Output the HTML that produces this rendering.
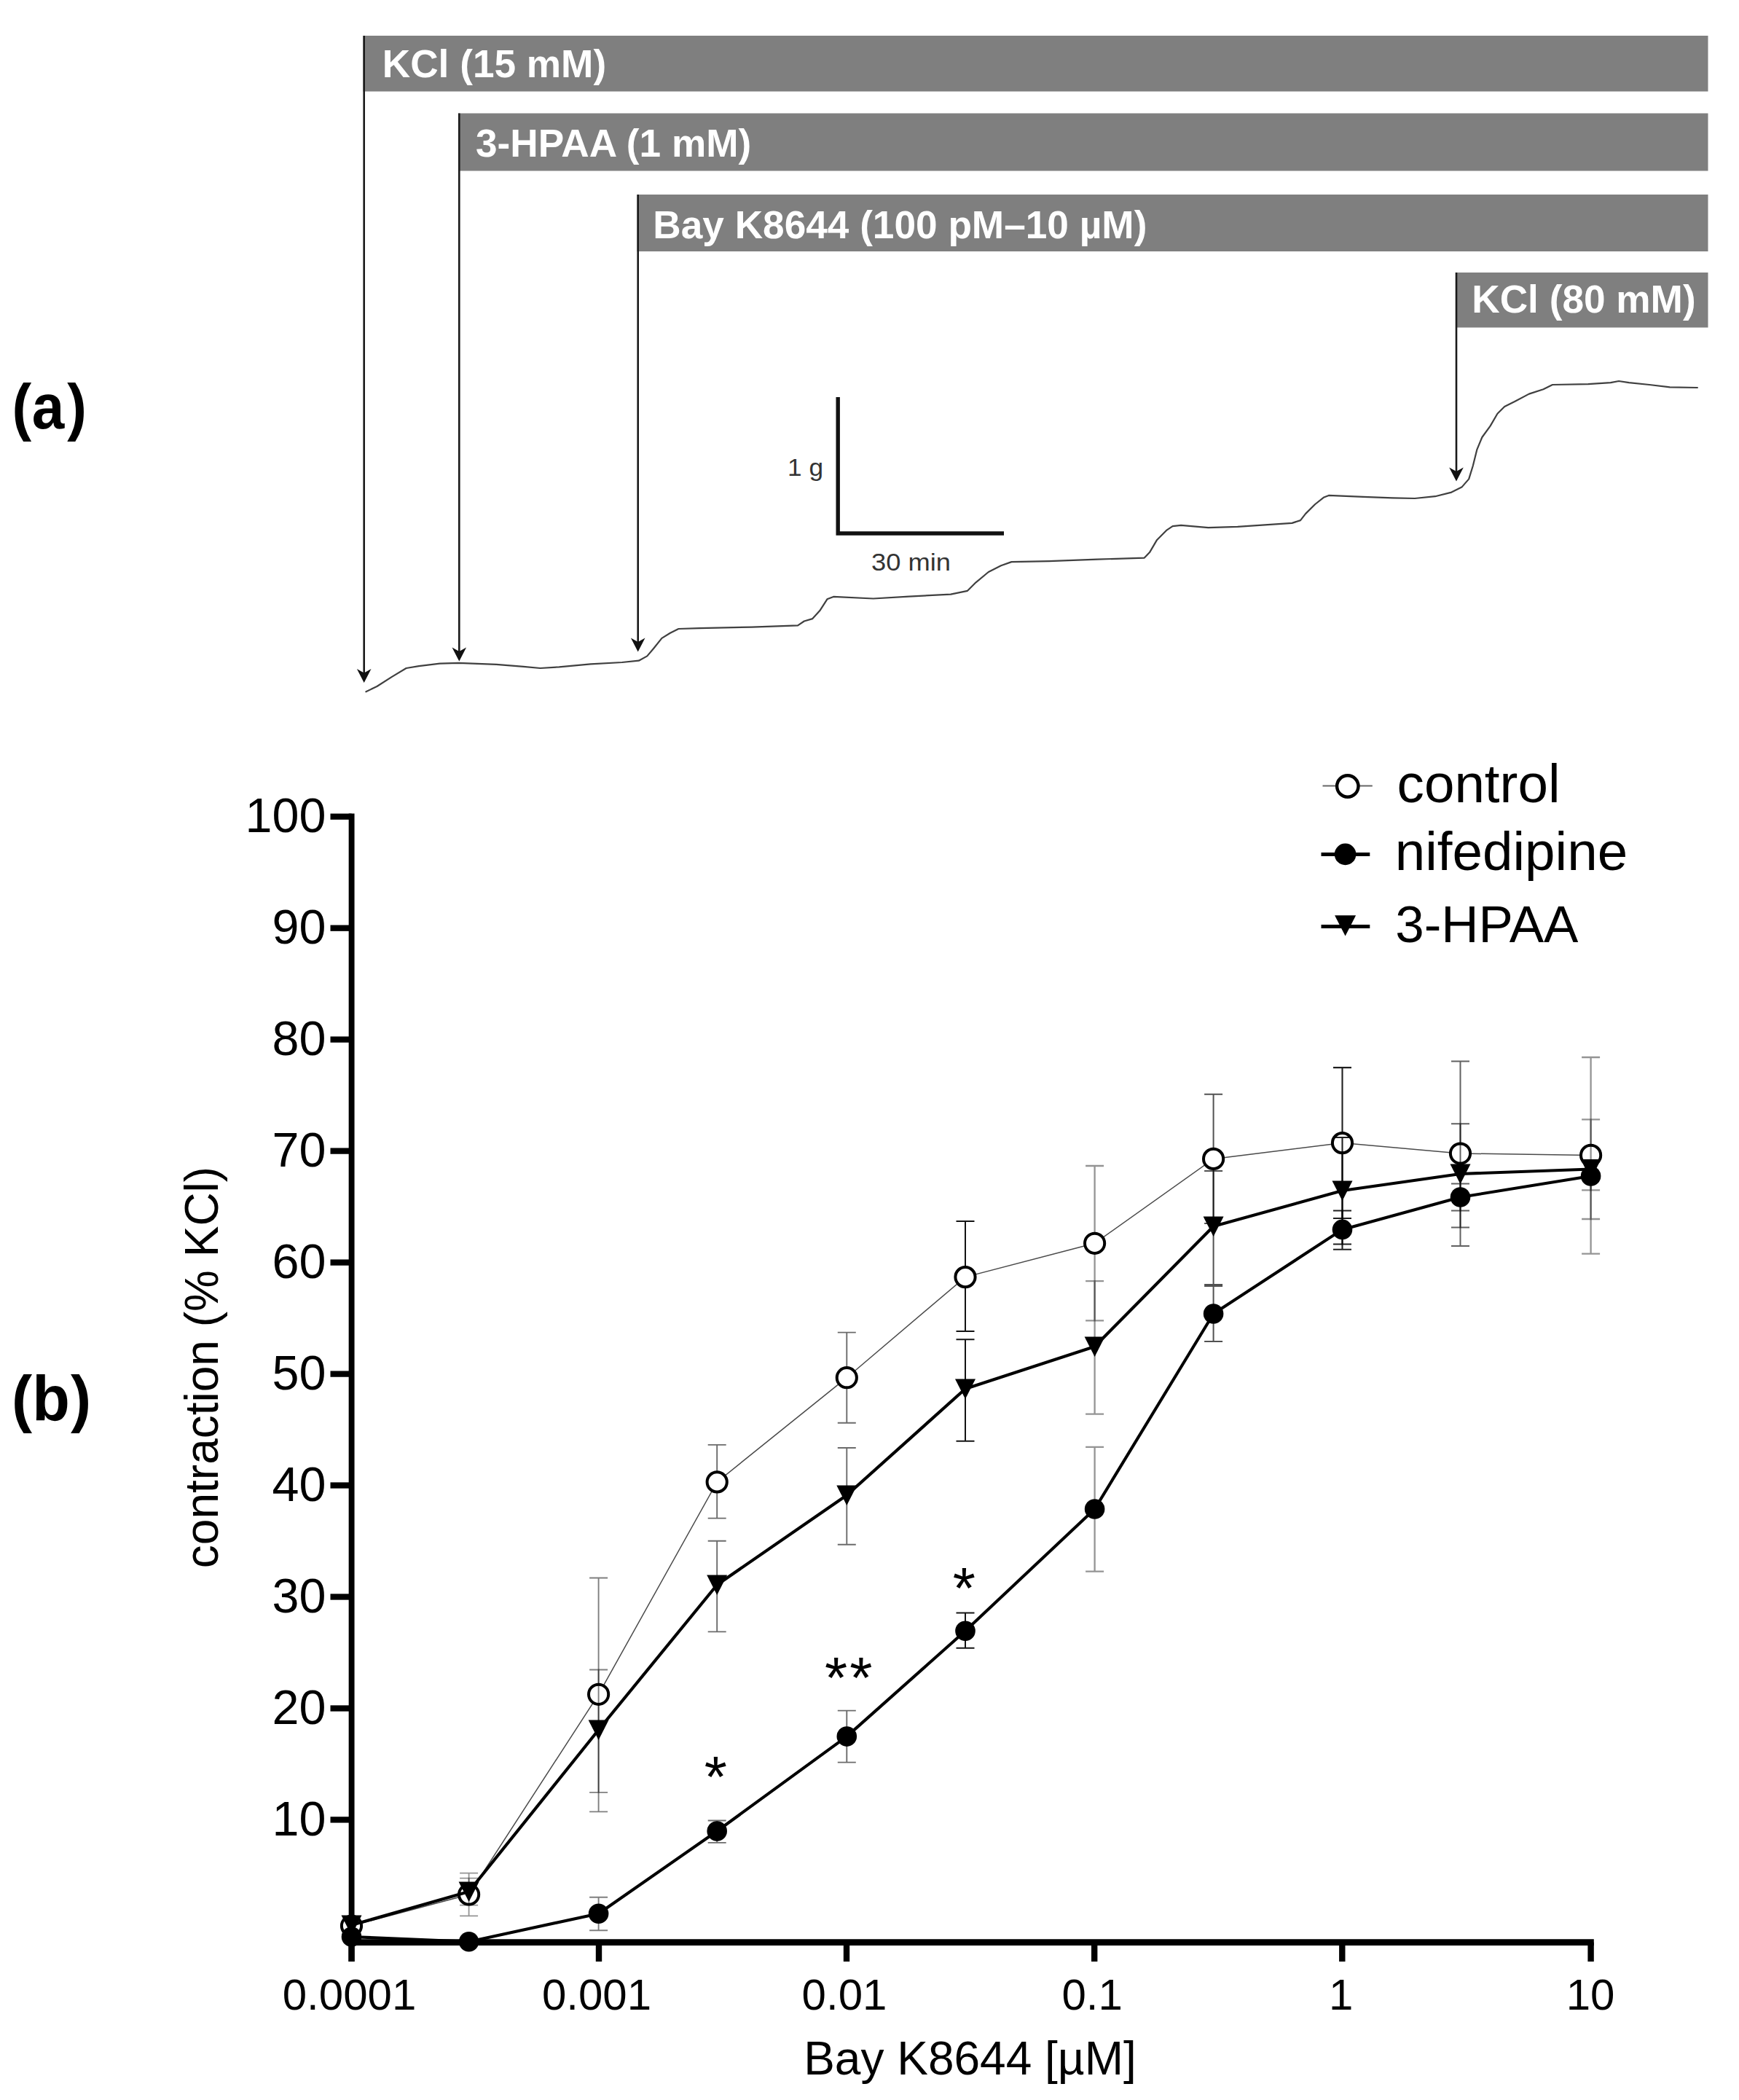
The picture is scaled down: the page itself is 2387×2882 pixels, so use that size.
<!DOCTYPE html>
<html lang="en"><head><meta charset="utf-8"><title>Figure</title>
<style>html,body{margin:0;padding:0;background:#fff}body{width:2387px;height:2882px;overflow:hidden}svg{display:block}text{font-family:"Liberation Sans",sans-serif}</style>
</head><body>
<svg width="2387" height="2882" viewBox="0 0 2387 2882">
<rect x="0" y="0" width="2387" height="2882" fill="#ffffff"/>
<g id="panel-a">
<rect x="498.5" y="49.0" width="1846.0" height="76.5" fill="#7f7f7f"/>
<text x="524.8" y="106.3" font-size="53.2" font-weight="bold" fill="#ffffff">KCl (15 mM)</text>
<rect x="629.0" y="155.5" width="1715.5" height="79.0" fill="#7f7f7f"/>
<text x="653.0" y="215.3" font-size="53.2" font-weight="bold" fill="#ffffff">3-HPAA (1 mM)</text>
<rect x="874.5" y="267.0" width="1470.0" height="78.0" fill="#7f7f7f"/>
<text x="896.3" y="327.3" font-size="53.2" font-weight="bold" fill="#ffffff">Bay K8644 (100 pM–10 µM)</text>
<rect x="1998.0" y="374.0" width="346.5" height="75.5" fill="#7f7f7f"/>
<text x="2020.3" y="428.8" font-size="53.2" font-weight="bold" fill="#ffffff">KCl (80 mM)</text>
<line x1="499.7" y1="49.0" x2="499.7" y2="927.0" stroke="#1a1a1a" stroke-width="2.6"/>
<path d="M499.7 937.0 L489.9 918.0 L499.7 923.5 L509.5 918.0 Z" fill="#111"/>
<line x1="630.3" y1="155.5" x2="630.3" y2="897.5" stroke="#1a1a1a" stroke-width="2.6"/>
<path d="M630.3 907.5 L620.5 888.5 L630.3 894.0 L640.1 888.5 Z" fill="#111"/>
<line x1="875.7" y1="267.0" x2="875.7" y2="884.5" stroke="#1a1a1a" stroke-width="2.6"/>
<path d="M875.7 894.5 L865.9 875.5 L875.7 881.0 L885.5 875.5 Z" fill="#111"/>
<line x1="1999.0" y1="374.0" x2="1999.0" y2="650.5" stroke="#1a1a1a" stroke-width="2.6"/>
<path d="M1999.0 660.5 L1989.2 641.5 L1999.0 647.0 L2008.8 641.5 Z" fill="#111"/>
<polyline fill="none" stroke="#404040" stroke-width="2.2" stroke-linejoin="round" stroke-linecap="round" points="502.4,949.3 517.4,942.0 537.5,929.1 557.6,917.0 574.9,914.2 603.6,910.7 629.5,909.9 681.3,911.9 718.6,914.8 741.6,917.0 767.5,915.3 810.6,911.3 853.8,909.0 876.8,906.7 888.3,900.4 896.9,890.3 908.4,875.9 919.9,868.8 931.4,863.0 960.0,862.2 1031.9,860.6 1095.1,858.3 1103.8,852.5 1115.3,849.1 1125.3,838.1 1135.4,822.3 1144.0,818.9 1198.7,821.5 1247.5,818.6 1305.0,815.7 1328.0,810.8 1339.5,799.3 1356.8,785.0 1374.0,776.3 1388.4,771.1 1440.0,770.2 1506.1,767.6 1570.8,765.6 1578.0,758.1 1588.1,740.9 1601.0,727.9 1609.6,722.2 1621.1,720.8 1658.5,724.2 1698.8,722.8 1773.5,717.9 1785.0,714.1 1792.2,704.9 1805.2,692.0 1816.7,682.8 1823.8,679.9 1871.3,681.9 1911.5,683.4 1942.0,684.0 1970.0,681.2 1992.4,675.6 2006.4,668.6 2016.2,657.4 2021.8,639.2 2027.4,616.8 2034.4,600.0 2045.6,584.6 2055.4,567.8 2065.2,558.0 2079.2,551.0 2098.8,540.6 2118.4,534.2 2131.0,528.0 2180.0,527.2 2210.8,525.2 2222.0,523.0 2236.0,525.2 2264.0,528.0 2292.0,531.4 2329.9,532.0"/>
<path d="M1150.2 545 L1150.2 732 L1378 732" fill="none" stroke="#111" stroke-width="5.4"/>
<text x="1081" y="653" font-size="33" fill="#333" textLength="49" lengthAdjust="spacingAndGlyphs">1 g</text>
<text x="1196" y="782.5" font-size="33" fill="#333" textLength="109" lengthAdjust="spacingAndGlyphs">30 min</text>
</g>
<text transform="translate(0,588.0) scale(0.91,1)" x="18.13 48.13 101.32" y="0" font-size="88" font-weight="bold" fill="#000">(a)</text>
<text transform="translate(0,1948.8) scale(0.96,1)" x="16.67 46.04 101.04" y="0" font-size="88" font-weight="bold" fill="#000">(b)</text>
<g id="panel-b">
<line x1="482.6" y1="1116.5" x2="482.6" y2="2692.0" stroke="#000" stroke-width="7.9"/>
<line x1="478.7" y1="2665.7" x2="2187.8" y2="2665.7" stroke="#000" stroke-width="8.7"/>
<line x1="453.5" y1="1120.7" x2="482.6" y2="1120.7" stroke="#000" stroke-width="8.3"/>
<text x="447.5" y="1142.3" font-size="66.5" text-anchor="end" fill="#000">100</text>
<line x1="453.5" y1="1273.7" x2="482.6" y2="1273.7" stroke="#000" stroke-width="8.3"/>
<text x="447.5" y="1295.3" font-size="66.5" text-anchor="end" fill="#000">90</text>
<line x1="453.5" y1="1426.6" x2="482.6" y2="1426.6" stroke="#000" stroke-width="8.3"/>
<text x="447.5" y="1448.2" font-size="66.5" text-anchor="end" fill="#000">80</text>
<line x1="453.5" y1="1579.6" x2="482.6" y2="1579.6" stroke="#000" stroke-width="8.3"/>
<text x="447.5" y="1601.2" font-size="66.5" text-anchor="end" fill="#000">70</text>
<line x1="453.5" y1="1732.6" x2="482.6" y2="1732.6" stroke="#000" stroke-width="8.3"/>
<text x="447.5" y="1754.2" font-size="66.5" text-anchor="end" fill="#000">60</text>
<line x1="453.5" y1="1885.6" x2="482.6" y2="1885.6" stroke="#000" stroke-width="8.3"/>
<text x="447.5" y="1907.2" font-size="66.5" text-anchor="end" fill="#000">50</text>
<line x1="453.5" y1="2038.5" x2="482.6" y2="2038.5" stroke="#000" stroke-width="8.3"/>
<text x="447.5" y="2060.1" font-size="66.5" text-anchor="end" fill="#000">40</text>
<line x1="453.5" y1="2191.5" x2="482.6" y2="2191.5" stroke="#000" stroke-width="8.3"/>
<text x="447.5" y="2213.1" font-size="66.5" text-anchor="end" fill="#000">30</text>
<line x1="453.5" y1="2344.5" x2="482.6" y2="2344.5" stroke="#000" stroke-width="8.3"/>
<text x="447.5" y="2366.1" font-size="66.5" text-anchor="end" fill="#000">20</text>
<line x1="453.5" y1="2497.4" x2="482.6" y2="2497.4" stroke="#000" stroke-width="8.3"/>
<text x="447.5" y="2519.0" font-size="66.5" text-anchor="end" fill="#000">10</text>
<line x1="482.5" y1="2665.7" x2="482.5" y2="2692" stroke="#000" stroke-width="8.4"/>
<text x="479.5" y="2758" font-size="60" text-anchor="middle" fill="#000">0.0001</text>
<line x1="822.0" y1="2665.7" x2="822.0" y2="2692" stroke="#000" stroke-width="8.4"/>
<text x="819.0" y="2758" font-size="60" text-anchor="middle" fill="#000">0.001</text>
<line x1="1162.0" y1="2665.7" x2="1162.0" y2="2692" stroke="#000" stroke-width="8.4"/>
<text x="1159.0" y="2758" font-size="60" text-anchor="middle" fill="#000">0.01</text>
<line x1="1502.2" y1="2665.7" x2="1502.2" y2="2692" stroke="#000" stroke-width="8.4"/>
<text x="1499.2" y="2758" font-size="60" text-anchor="middle" fill="#000">0.1</text>
<line x1="1842.3" y1="2665.7" x2="1842.3" y2="2692" stroke="#000" stroke-width="8.4"/>
<text x="1840.8" y="2758" font-size="60" text-anchor="middle" fill="#000">1</text>
<line x1="2183.6" y1="2665.7" x2="2183.6" y2="2692" stroke="#000" stroke-width="8.4"/>
<text x="2183.1" y="2758" font-size="60" text-anchor="middle" fill="#000">10</text>
<text x="1331.5" y="2847.3" font-size="64" text-anchor="middle" fill="#000">Bay K8644 [µM]</text>
<text transform="translate(298.5,1876.5) rotate(-90)" font-size="64" text-anchor="middle" fill="#000">contraction (% KCl)</text>
<path d="M643.6 2570.6 V2629.4 M631.1 2570.6 H656.1 M631.1 2629.4 H656.1" fill="none" stroke="#000" stroke-opacity="0.42" stroke-width="1.8"/>
<path d="M821.6 2165.5 V2486.4 M809.1 2165.5 H834.1 M809.1 2486.4 H834.1" fill="none" stroke="#000" stroke-opacity="0.50" stroke-width="1.9"/>
<path d="M984.2 1982.9 V2083.6 M971.7 1982.9 H996.7 M971.7 2083.6 H996.7" fill="none" stroke="#000" stroke-opacity="0.58" stroke-width="1.9"/>
<path d="M1162.3 1828.6 V1952.8 M1149.8 1828.6 H1174.8 M1149.8 1952.8 H1174.8" fill="none" stroke="#000" stroke-opacity="0.58" stroke-width="1.9"/>
<path d="M1325.0 1676.0 V1827.1 M1312.5 1676.0 H1337.5 M1312.5 1827.1 H1337.5" fill="none" stroke="#000" stroke-opacity="0.92" stroke-width="2.0"/>
<path d="M1502.6 1600.0 V1812.3 M1490.1 1600.0 H1515.1 M1490.1 1812.3 H1515.1" fill="none" stroke="#000" stroke-opacity="0.42" stroke-width="2.3"/>
<path d="M1665.6 1501.7 V1679.0 M1653.1 1501.7 H1678.1 M1653.1 1679.0 H1678.1" fill="none" stroke="#000" stroke-opacity="0.68" stroke-width="2.0"/>
<path d="M1842.5 1465.1 V1672.0 M1830.0 1465.1 H1855.0 M1830.0 1672.0 H1855.0" fill="none" stroke="#000" stroke-opacity="0.88" stroke-width="2.1"/>
<path d="M2004.5 1456.5 V1710.0 M1992.0 1456.5 H2017.0 M1992.0 1710.0 H2017.0" fill="none" stroke="#000" stroke-opacity="0.62" stroke-width="2.0"/>
<path d="M2183.6 1451.0 V1720.6 M2171.1 1451.0 H2196.1 M2171.1 1720.6 H2196.1" fill="none" stroke="#000" stroke-opacity="0.42" stroke-width="2.3"/>
<polyline fill="none" stroke="#4a4a4a" stroke-width="1.5" points="482.5,2643.0 643.6,2600.0 821.6,2325.3 984.2,2033.9 1162.3,1890.7 1325.0,1752.6 1502.6,1706.3 1665.6,1590.4 1842.5,1568.6 2004.5,1583.0 2183.6,1585.4"/>
<circle cx="482.5" cy="2643.0" r="13.6" fill="#fff" stroke="#000" stroke-width="4.0"/>
<circle cx="643.6" cy="2600.0" r="13.6" fill="#fff" stroke="#000" stroke-width="4.0"/>
<circle cx="821.6" cy="2325.3" r="13.6" fill="#fff" stroke="#000" stroke-width="4.0"/>
<circle cx="984.2" cy="2033.9" r="13.6" fill="#fff" stroke="#000" stroke-width="4.0"/>
<circle cx="1162.3" cy="1890.7" r="13.6" fill="#fff" stroke="#000" stroke-width="4.0"/>
<circle cx="1325.0" cy="1752.6" r="13.6" fill="#fff" stroke="#000" stroke-width="4.0"/>
<circle cx="1502.6" cy="1706.3" r="13.6" fill="#fff" stroke="#000" stroke-width="4.0"/>
<circle cx="1665.6" cy="1590.4" r="13.6" fill="#fff" stroke="#000" stroke-width="4.0"/>
<circle cx="1842.5" cy="1568.6" r="13.6" fill="#fff" stroke="#000" stroke-width="4.0"/>
<circle cx="2004.5" cy="1583.0" r="13.6" fill="#fff" stroke="#000" stroke-width="4.0"/>
<circle cx="2183.6" cy="1585.4" r="13.6" fill="#fff" stroke="#000" stroke-width="4.0"/>
<path d="M821.6 2603.8 V2649.3 M809.1 2603.8 H834.1 M809.1 2649.3 H834.1" fill="none" stroke="#000" stroke-opacity="0.50" stroke-width="1.9"/>
<path d="M984.2 2498.5 V2528.9 M971.7 2498.5 H996.7 M971.7 2528.9 H996.7" fill="none" stroke="#000" stroke-opacity="0.58" stroke-width="1.9"/>
<path d="M1162.3 2347.6 V2418.6 M1149.8 2347.6 H1174.8 M1149.8 2418.6 H1174.8" fill="none" stroke="#000" stroke-opacity="0.58" stroke-width="1.9"/>
<path d="M1325.0 2213.4 V2261.7 M1312.5 2213.4 H1337.5 M1312.5 2261.7 H1337.5" fill="none" stroke="#000" stroke-opacity="0.92" stroke-width="2.0"/>
<path d="M1502.6 1985.9 V2156.6 M1490.1 1985.9 H1515.1 M1490.1 2156.6 H1515.1" fill="none" stroke="#000" stroke-opacity="0.42" stroke-width="2.3"/>
<path d="M1665.6 1765.0 V1841.0 M1653.1 1765.0 H1678.1 M1653.1 1841.0 H1678.1" fill="none" stroke="#000" stroke-opacity="0.68" stroke-width="2.0"/>
<path d="M1842.5 1661.5 V1714.7 M1830.0 1661.5 H1855.0 M1830.0 1714.7 H1855.0" fill="none" stroke="#000" stroke-opacity="0.88" stroke-width="2.1"/>
<path d="M2004.5 1624.5 V1661.4 M1992.0 1624.5 H2017.0 M1992.0 1661.4 H2017.0" fill="none" stroke="#000" stroke-opacity="0.62" stroke-width="2.0"/>
<path d="M2183.6 1594.7 V1633.3 M2171.1 1594.7 H2196.1 M2171.1 1633.3 H2196.1" fill="none" stroke="#000" stroke-opacity="0.42" stroke-width="2.3"/>
<polyline fill="none" stroke="#000" stroke-width="4.1" stroke-linejoin="round" points="482.5,2658.0 643.6,2664.8 821.6,2626.2 984.2,2513.0 1162.3,2383.1 1325.0,2238.2 1502.6,2071.0 1665.6,1803.0 1842.5,1687.4 2004.5,1643.0 2183.6,1614.0"/>
<circle cx="482.5" cy="2658.0" r="13.8" fill="#000"/>
<circle cx="643.6" cy="2664.8" r="13.8" fill="#000"/>
<circle cx="821.6" cy="2626.2" r="13.8" fill="#000"/>
<circle cx="984.2" cy="2513.0" r="13.8" fill="#000"/>
<circle cx="1162.3" cy="2383.1" r="13.8" fill="#000"/>
<circle cx="1325.0" cy="2238.2" r="13.8" fill="#000"/>
<circle cx="1502.6" cy="2071.0" r="13.8" fill="#000"/>
<circle cx="1665.6" cy="1803.0" r="13.8" fill="#000"/>
<circle cx="1842.5" cy="1687.4" r="13.8" fill="#000"/>
<circle cx="2004.5" cy="1643.0" r="13.8" fill="#000"/>
<circle cx="2183.6" cy="1614.0" r="13.8" fill="#000"/>
<path d="M643.6 2577.6 V2614.7 M631.1 2577.6 H656.1 M631.1 2614.7 H656.1" fill="none" stroke="#000" stroke-opacity="0.42" stroke-width="1.8"/>
<path d="M821.6 2291.5 V2459.9 M809.1 2291.5 H834.1 M809.1 2459.9 H834.1" fill="none" stroke="#000" stroke-opacity="0.50" stroke-width="1.9"/>
<path d="M984.2 2114.7 V2239.4 M971.7 2114.7 H996.7 M971.7 2239.4 H996.7" fill="none" stroke="#000" stroke-opacity="0.58" stroke-width="1.9"/>
<path d="M1162.3 1987.0 V2119.8 M1149.8 1987.0 H1174.8 M1149.8 2119.8 H1174.8" fill="none" stroke="#000" stroke-opacity="0.58" stroke-width="1.9"/>
<path d="M1325.0 1838.2 V1977.8 M1312.5 1838.2 H1337.5 M1312.5 1977.8 H1337.5" fill="none" stroke="#000" stroke-opacity="0.92" stroke-width="2.0"/>
<path d="M1502.6 1758.1 V1940.6 M1490.1 1758.1 H1515.1 M1490.1 1940.6 H1515.1" fill="none" stroke="#000" stroke-opacity="0.42" stroke-width="2.3"/>
<path d="M1665.6 1607.0 V1763.0 M1653.1 1607.0 H1678.1 M1653.1 1763.0 H1678.1" fill="none" stroke="#000" stroke-opacity="0.68" stroke-width="2.0"/>
<path d="M1842.5 1561.0 V1707.5 M1830.0 1561.0 H1855.0 M1830.0 1707.5 H1855.0" fill="none" stroke="#000" stroke-opacity="0.88" stroke-width="2.1"/>
<path d="M2004.5 1542.2 V1684.6 M1992.0 1542.2 H2017.0 M1992.0 1684.6 H2017.0" fill="none" stroke="#000" stroke-opacity="0.62" stroke-width="2.0"/>
<path d="M2183.6 1536.4 V1673.0 M2171.1 1536.4 H2196.1 M2171.1 1673.0 H2196.1" fill="none" stroke="#000" stroke-opacity="0.42" stroke-width="2.3"/>
<polyline fill="none" stroke="#000" stroke-width="4.2" stroke-linejoin="round" points="482.5,2642.0 643.6,2596.0 821.6,2374.0 984.2,2175.0 1162.3,2052.0 1325.0,1906.0 1502.6,1848.0 1665.6,1683.0 1842.5,1634.0 2004.5,1611.0 2183.6,1604.5"/>
<path d="M468.5 2628.5 L496.5 2628.5 L482.5 2656.0 Z" fill="#000"/>
<path d="M629.6 2582.5 L657.6 2582.5 L643.6 2610.0 Z" fill="#000"/>
<path d="M807.6 2360.5 L835.6 2360.5 L821.6 2388.0 Z" fill="#000"/>
<path d="M970.2 2161.5 L998.2 2161.5 L984.2 2189.0 Z" fill="#000"/>
<path d="M1148.3 2038.5 L1176.3 2038.5 L1162.3 2066.0 Z" fill="#000"/>
<path d="M1311.0 1892.5 L1339.0 1892.5 L1325.0 1920.0 Z" fill="#000"/>
<path d="M1488.6 1834.5 L1516.6 1834.5 L1502.6 1862.0 Z" fill="#000"/>
<path d="M1651.6 1669.5 L1679.6 1669.5 L1665.6 1697.0 Z" fill="#000"/>
<path d="M1828.5 1620.5 L1856.5 1620.5 L1842.5 1648.0 Z" fill="#000"/>
<path d="M1990.5 1597.5 L2018.5 1597.5 L2004.5 1625.0 Z" fill="#000"/>
<path d="M2169.6 1591.0 L2197.6 1591.0 L2183.6 1618.5 Z" fill="#000"/>
<text x="982.3" y="2466.2" font-size="80" text-anchor="middle" fill="#000">*</text>
<text x="1147.5" y="2329.8" font-size="80" text-anchor="middle" fill="#000">*</text>
<text x="1181.9" y="2329.8" font-size="80" text-anchor="middle" fill="#000">*</text>
<text x="1323.4" y="2207.0" font-size="80" text-anchor="middle" fill="#000">*</text>
<line x1="1815.5" y1="1078.5" x2="1883.8" y2="1078.5" stroke="#666" stroke-width="1.8"/>
<circle cx="1849.8" cy="1079" r="14.7" fill="#fff" stroke="#000" stroke-width="4.4"/>
<text x="1917.6" y="1100.9" font-size="74.6" fill="#000">control</text>
<line x1="1813.5" y1="1172.4" x2="1880.3" y2="1172.4" stroke="#000" stroke-width="5"/>
<circle cx="1846.6" cy="1172.4" r="14.8" fill="#000"/>
<text x="1914.8" y="1193.8" font-size="74.6" fill="#000">nifedipine</text>
<line x1="1813.5" y1="1271.4" x2="1880.3" y2="1271.4" stroke="#000" stroke-width="5"/>
<path d="M1832.1 1256.3 L1861.1 1256.3 L1846.6 1284.6 Z" fill="#000"/>
<text x="1915.2" y="1292.6" font-size="71" fill="#000">3-HPAA</text>
</g>
</svg></body></html>
